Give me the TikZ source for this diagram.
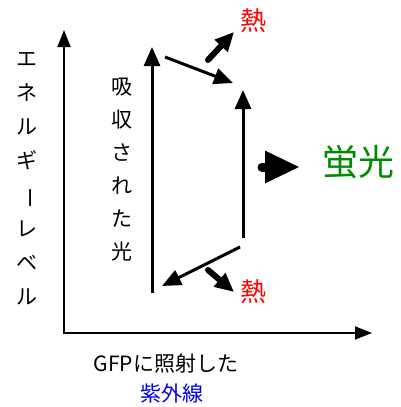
\documentclass[tikz,border=0pt]{standalone}
\usepackage{fontspec}
\setmainfont{Noto Sans CJK JP}
\usetikzlibrary{arrows.meta}
\definecolor{heatred}{RGB}{255,0,0}
\definecolor{fgreen}{RGB}{0,140,0}
\definecolor{uvblue}{RGB}{0,0,230}
\tikzset{
  axis/.style={line width=1.6pt,-{Triangle[length=17pt,width=13pt]}},
  trans/.style={line width=3pt,-{Triangle[length=19pt,width=16pt]}},
  heat/.style={line width=6pt,line cap=round,-{Triangle[length=19pt,width=17pt]}},
  fluo/.style={line width=9pt,line cap=round,-{Triangle[length=35pt,width=30pt]}},
  lbl/.style={inner sep=0pt,align=center}
}
\begin{document}
\begin{tikzpicture}[x=1pt,y=-1pt]
\useasboundingbox (0,0) rectangle (401,407);
% axes
\coordinate (O) at (64,333);
\coordinate (Ytop) at (64,30);
\coordinate (Xend) at (372,333);
\draw[axis] (O) -- (Ytop);
\draw[axis] ([xshift=-0.8pt]O) -- (Xend);
% levels
\coordinate (A0) at (152,293);
\coordinate (A1) at (152,47);
\coordinate (B0) at (165,57);
\coordinate (B1) at (233,83);
\coordinate (C0) at (243,238);
\coordinate (C1) at (243,90);
\coordinate (D0) at (240,247);
\coordinate (D1) at (162,286);
\draw[trans] (A0) -- (A1);
\draw[trans] (B0) -- (B1);
\draw[trans] (C0) -- (C1);
\draw[trans] (D0) -- (D1);
% heat
\coordinate (H1s) at (208,60);
\coordinate (H1e) at (234,32);
\coordinate (H2s) at (208,270);
\coordinate (H2e) at (234,292);
\draw[heat] (H1s) -- (H1e);
\draw[heat] (H2s) -- (H2e);
\node[lbl,text=heatred,font=\fontsize{26}{26}\selectfont] (heat1) at (253,21) {熱};
\node[lbl,text=heatred,font=\fontsize{26}{26}\selectfont] (heat2) at (253,292) {熱};
% fluorescence
\coordinate (F0) at (262,167);
\coordinate (F1) at (300,167);
\draw[fluo] (F0) -- (F1);
\node[lbl,text=fgreen,font=\fontsize{36}{36}\selectfont] (fluo) at (358,162) {蛍光};
% labels
\node[lbl,font=\fontsize{21}{34}\selectfont] (energy) at (27,179) {エ\\ネ\\ル\\ギ\\\rotatebox[origin=c]{-90}{ー}\\レ\\ベ\\ル};
\node[lbl,font=\fontsize{21}{33}\selectfont] (absorb) at (122,170) {吸\\収\\さ\\れ\\た\\光};
\node[lbl,font=\fontsize{21}{21}\selectfont] (gfp) at (166,364) {GFPに照射した};
\node[lbl,text=uvblue,font=\fontsize{21}{21}\selectfont] (uv) at (172,394) {紫外線};
\end{tikzpicture}
\end{document}
